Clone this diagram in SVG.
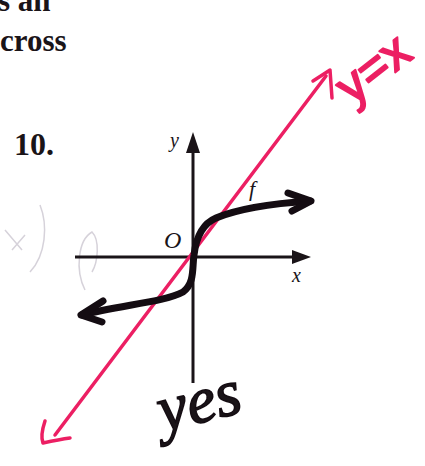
<svg xmlns="http://www.w3.org/2000/svg" width="425" height="466" viewBox="0 0 425 466">
<defs>
<style>
.print{font-family:"Liberation Serif",serif;font-weight:bold;fill:#1a1418}
.lab{font-family:"Liberation Serif",serif;font-style:italic;fill:#1a1418}
.axis{stroke:#1a1418;stroke-width:3;fill:none}
.pink{stroke:#ec1f63;stroke-width:3.5;fill:none;stroke-linecap:round;stroke-linejoin:round}
.pinkt{font-family:"Liberation Sans",sans-serif;fill:#ec1f63;stroke:#ec1f63;stroke-width:2;stroke-linejoin:round}
.curve{stroke:#140c12;stroke-width:7;fill:none;stroke-linecap:round;stroke-linejoin:round}
.pencil{stroke:#d6d2da;stroke-width:1.5;fill:none}
</style>
</defs>
<rect width="425" height="466" fill="#ffffff"/>
<g id="page-text">
<text class="print" x="-2" y="11" font-size="31">s an</text>
<text class="print" x="0" y="51" font-size="31">cross</text>
<text class="print" x="14" y="155" font-size="32">10.</text>
</g>
<g id="pencil-marks">
<path class="pencil" d="M40 205 C 48 225, 46 255, 30 272"/>
<path class="pencil" d="M5 230 L 22 250 M 12 250 L 25 235"/>
<path class="pencil" d="M85 290 C 75 270, 78 240, 92 232 C 100 240, 98 262, 92 272"/>
</g>
<g id="axes">
<line id="x-axis" class="axis" x1="75" y1="257" x2="296" y2="257"/>
<polygon points="311,257 292,250 292,264" fill="#1a1418"/>
<line id="y-axis" class="axis" x1="193" y1="383" x2="193" y2="148"/>
<polygon points="193,132 186,153 200,153" fill="#1a1418"/>
<text class="lab" x="170" y="147" font-size="20">y</text>
<text class="lab" x="292" y="282" font-size="20">x</text>
<text class="lab" x="164" y="248" font-size="24">O</text>
</g>
<g id="line-y-eq-x">
<path class="pink" d="M55 435 L 326 76"/>
<path class="pink" d="M313 81 L 330 70 L 332 98"/>
<path class="pink" d="M45 421 C 42 430, 41 438, 43 443 C 52 441, 62 439, 70 438"/>
<text class="pinkt" font-size="50" transform="translate(352 106) rotate(-38)">y=x</text>
</g>
<g id="curve-f">
<path class="curve" d="M82 315 C 120 305, 165 302, 183 292 C 195 283, 192 268, 194 255 C 196 238, 202 224, 216 218 C 240 208, 280 203, 310 201"/>
<path class="curve" d="M288 193 L 311 201 L 292 211"/>
<path class="curve" d="M103 301 L 81 315 L 102 322"/>
<text class="lab" x="249" y="196" font-size="22">f</text>
</g>
<g id="answer">
<text class="lab" font-size="66" fill="#140c12" stroke="#140c12" stroke-width="1.5" transform="translate(163 432) rotate(-14)">yes</text>
</g>
</svg>
